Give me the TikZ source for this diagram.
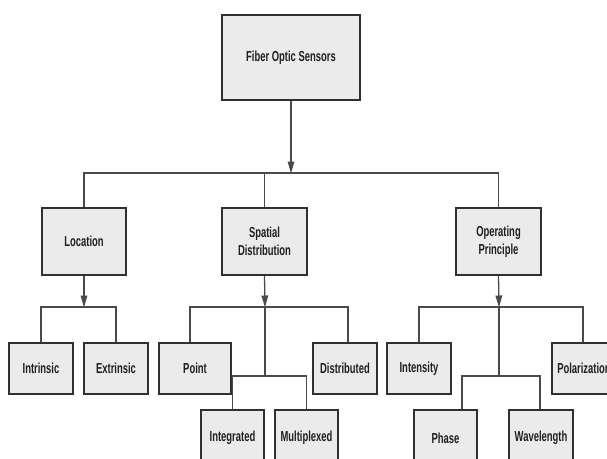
\documentclass[tikz,border=0pt]{standalone}
\usepackage{fontspec}
\newfontfamily\lbl{Liberation Sans}[FakeStretch=0.65]
\usetikzlibrary{arrows.meta}
\definecolor{boxfill}{HTML}{EBEBEB}
\definecolor{boxline}{HTML}{303030}
\definecolor{connline}{HTML}{4A4A4A}
\tikzset{
  box/.style={draw=boxline, fill=boxfill, line width=1.6pt, inner sep=0pt,
    align=center, text=black!88, font=\lbl\bfseries\fontsize{14.5}{18}\selectfont},
  conn/.style={draw=connline, line width=1.3pt},
  arr/.style={conn, -{Triangle[length=12pt,width=6.5pt]}, shorten >=-0.5pt},
}
\begin{document}
\begin{tikzpicture}[x=1pt,y=-1pt]
\clip (0,0) rectangle (607,458);
\fill[white] (0,0) rectangle (607,458);
% level 1
\node[box, minimum width=138pt, minimum height=85pt] (root) at (291,57.5) {Fiber Optic Sensors};
% level 2
\node[box, minimum width=84pt, minimum height=67pt] (loc) at (84,241.5) {Location};
\node[box, minimum width=85pt, minimum height=67pt] (sd) at (264.5,241.5) {Spatial\\Distribution};
\node[box, minimum width=85pt, minimum height=67pt] (op) at (498.5,241.5) {Operating\\Principle};
% level 3
\node[box, minimum width=64pt, minimum height=51pt] (intr) at (41,368.5) {Intrinsic};
\node[box, minimum width=64pt, minimum height=51pt] (extr) at (116,368.5) {Extrinsic};
\node[box, minimum width=72pt, minimum height=51pt] (pt) at (195,368.5) {Point};
\node[box, minimum width=64pt, minimum height=51pt] (dist) at (345,368.5) {Distributed};
\node[box, minimum width=64pt, minimum height=51pt] (inten) at (419,368.5) {Intensity};
\node[box, minimum width=64pt, minimum height=51pt] (pol) at (584,368.5) {Polarization};
% level 4
\node[box, minimum width=63pt, minimum height=56pt] (integ) at (232.5,438) {Integrated};
\node[box, minimum width=63pt, minimum height=56pt] (mult) at (306.5,438) {Multiplexed};
\node[box, minimum width=63pt, minimum height=56pt] (phase) at (445.5,438) {Phase};
\node[box, minimum width=64pt, minimum height=56pt] (wave) at (541,438) {Wavelength};
% junction coordinates
\coordinate (j0) at (291,173);
\coordinate (j1) at (84,307);
\coordinate (j2) at (265,307);
\coordinate (j3) at (499,307);
\coordinate (k2) at (265,376);
\coordinate (k3) at (499,376);
% root -> level 2
\draw[conn] (loc.north) -- (loc.north |- j0) -- (op.north |- j0) -- (op.north);
\draw[conn] (sd.north) -- (sd.north |- j0);
\draw[arr] (root.south) -- (j0);
% location
\draw[conn] (intr.north) -- (intr.north |- j1) -- (extr.north |- j1) -- (extr.north);
\draw[arr] (loc.south) -- (j1);
% spatial distribution
\draw[conn] ([xshift=-5pt]pt.north) -- ([xshift=-5pt]pt.north |- j2) -- ([xshift=3pt]dist.north |- j2) -- ([xshift=3pt]dist.north);
\draw[conn] (j2) -- (k2);
\draw[conn] (integ.north) -- (integ.north |- k2) -- (mult.north |- k2) -- (mult.north);
\draw[arr] (sd.south) -- (j2);
% operating principle
\draw[conn] (inten.north) -- (inten.north |- j3) -- ([xshift=-1pt]pol.north |- j3) -- ([xshift=-1pt]pol.north);
\draw[conn] (j3) -- (k3);
\draw[conn] ([xshift=16.5pt]phase.north) -- ([xshift=16.5pt]phase.north |- k3) -- ([xshift=-1pt]wave.north |- k3) -- ([xshift=-1pt]wave.north);
\draw[arr] (op.south) -- (j3);
\end{tikzpicture}
\end{document}
